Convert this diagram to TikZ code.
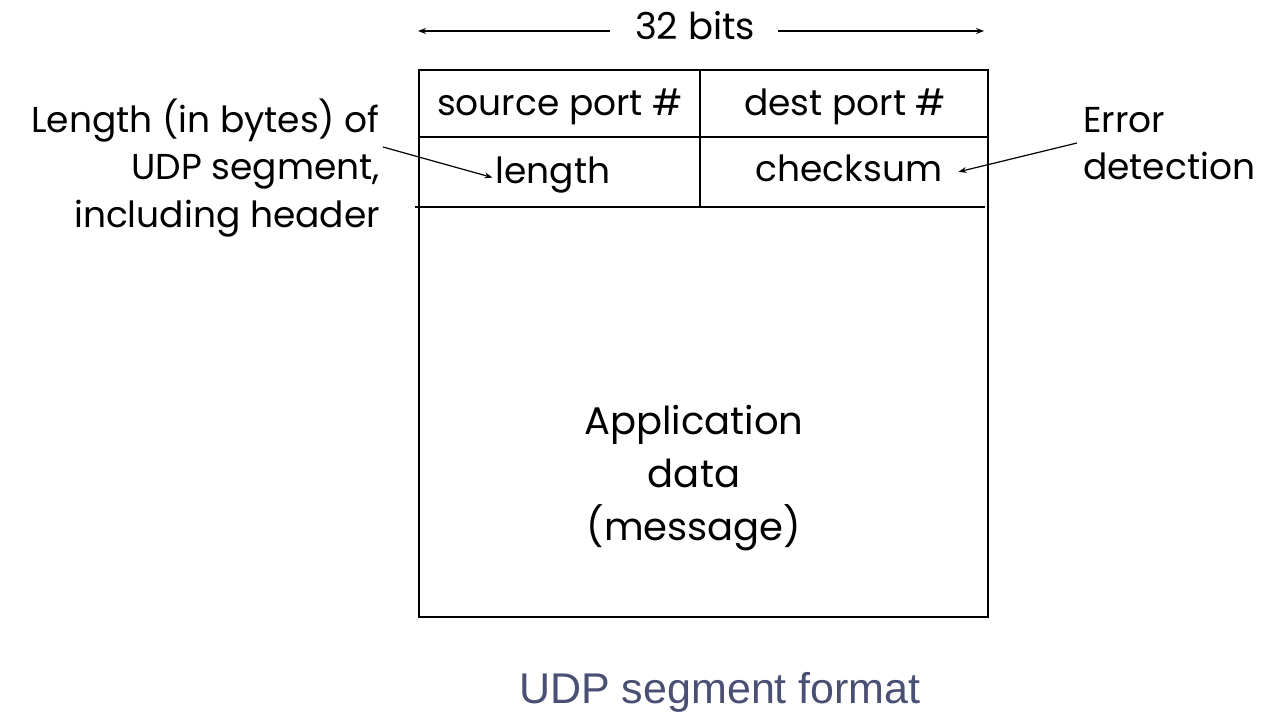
\documentclass[tikz,border=0pt]{standalone}
\usepackage{fontspec}
\setmainfont{Poppins}
\newfontfamily\capfont{Liberation Sans}
\usetikzlibrary{arrows.meta}
\definecolor{capblue}{HTML}{4A5073}
\tikzset{
  lbl/.style={font=\fontsize{36}{47}\selectfont, inner sep=0pt, anchor=base},
  bigl/.style={font=\fontsize{38.5}{53}\selectfont, inner sep=0pt, anchor=base},
  arr/.style={-{Stealth[length=8pt,width=6pt]}, line width=1.2pt},
  frame/.style={line width=1.6pt},
}
\begin{document}
\begin{tikzpicture}[x=1pt,y=-1pt]
\useasboundingbox (0,0) rectangle (1266,722);
% frame
\draw[frame] (419,70) rectangle (988,617);
\draw[line width=1.3pt] (700,70) -- (700,207);
\draw[line width=1.3pt] (419,137) -- (988,137);
\draw[frame] (415,207) -- (985,207);
% width marker
\node[lbl, font=\fontsize{37}{40}\selectfont] (bits) at (695,40) {32 bits};
\coordinate (la) at (418,31);
\coordinate (ra) at (984,31);
\coordinate (lb) at (610,31);
\coordinate (rb) at (778,31);
\draw[arr] (lb) -- (la);
\draw[arr] (rb) -- (ra);
% fields
\node[lbl] (src) at (560,116) {source port \#};
\node[lbl] (dst) at (845,116) {dest port \#};
\node[lbl] (len) at (553,184) {length};
\node[lbl] (chk) at (849,182) {checksum};
\node[bigl] (app1) at (694,434) {Application};
\node[bigl] (app2) at (694,487) {data};
\node[bigl] (app3) at (694,540) {(message)};
% annotations
\node[lbl, anchor=base east] (l1) at (380,133) {Length (in bytes) of};
\node[lbl, anchor=base east] (l2) at (380,180) {UDP segment,};
\node[lbl, anchor=base east] (l3) at (380,227) {including header};
\node[lbl, anchor=base west] (e1) at (1083,133) {Error};
\node[lbl, anchor=base west] (e2) at (1083,180) {detection};
\coordinate (lstart) at (383,147);
\coordinate (estart) at (1077,143);
\draw[arr] (lstart) -- ([xshift=-3pt,yshift=-2pt]len.west);
\draw[arr] (estart) -- ([xshift=16pt,yshift=-3pt]chk.east);
% caption
\node[font=\capfont\fontsize{43}{48}\selectfont, text=capblue, inner sep=0pt, anchor=base] (cap) at (720,703) {UDP segment format};
\end{tikzpicture}
\end{document}
